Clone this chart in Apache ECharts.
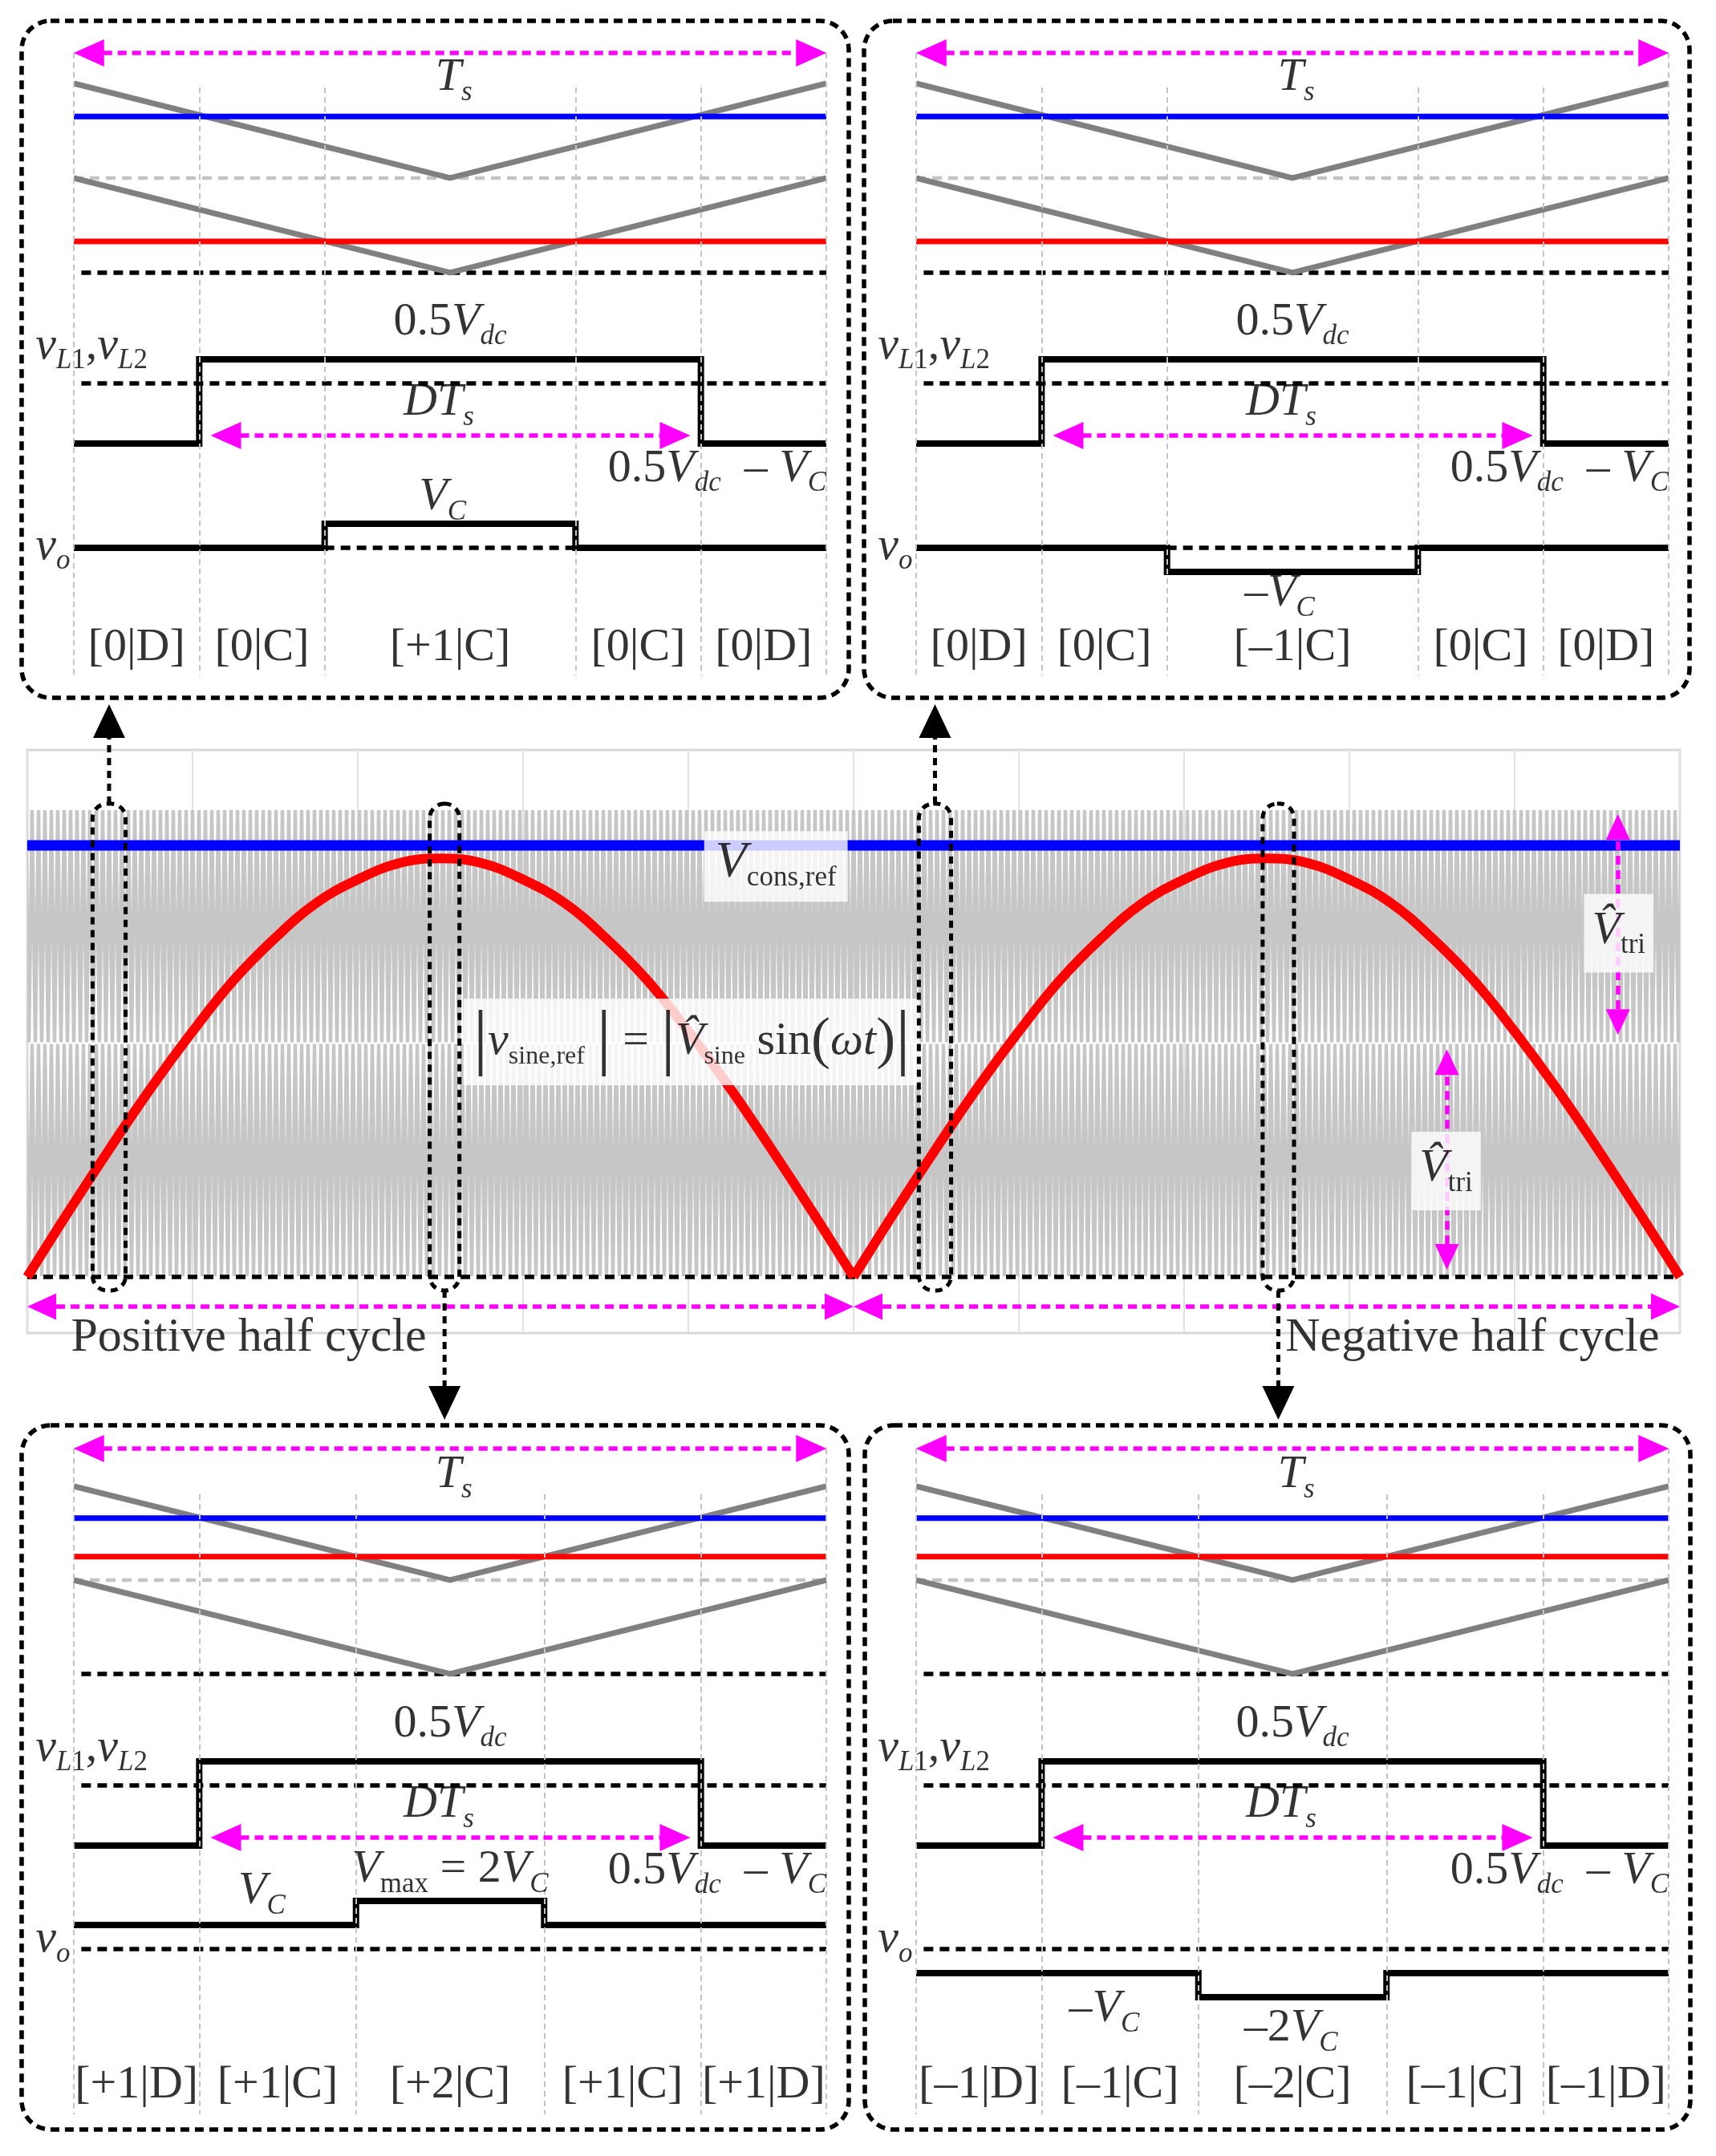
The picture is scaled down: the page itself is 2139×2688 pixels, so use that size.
<!DOCTYPE html>
<html><head><meta charset="utf-8">
<script src="https://cdn.jsdelivr.net/npm/echarts@6/dist/echarts.min.js"></script>
<style>html,body{margin:0;padding:0;background:#fff}#c{width:2139px;height:2688px}</style>
</head><body><div id="c"></div><script>
const SERIF = "'Liberation Serif','Times New Roman','DejaVu Serif',serif";

// ---------------- DATA : four switching-period panels ----------------
const panelKeys = ['TL', 'TR', 'BL', 'BR'];
const segBounds = {
  TL: [0, 1/6, 1/3, 2/3, 5/6, 1], TR: [0, 1/6, 1/3, 2/3, 5/6, 1],
  BL: [0, 1/6, 0.375, 0.625, 5/6, 1], BR: [0, 1/6, 0.375, 0.625, 5/6, 1]
};
const segLabels = {
  TL: ['[0|D]', '[0|C]', '[+1|C]', '[0|C]', '[0|D]'],
  TR: ['[0|D]', '[0|C]', '[–1|C]', '[0|C]', '[0|D]'],
  BL: ['[+1|D]', '[+1|C]', '[+2|C]', '[+1|C]', '[+1|D]'],
  BR: ['[–1|D]', '[–1|C]', '[–2|C]', '[–1|C]', '[–1|D]']
};
const carrierUpper = [[0, 2], [0.5, 1], [1, 2]];
const carrierLower = [[0, 1], [0.5, 0], [1, 1]];
const consRefLevel = {TL: 1.65, TR: 1.65, BL: 1.66, BR: 1.66};
const sineRefLevel = {TL: 0.33, TR: 0.33, BL: 1.25, BR: 1.25};
const vLBounds = [0, 1/6, 5/6, 1];
const vLLevels = [-2.5, 1, -2.5];
const voLevels = {TL: [0, 0, 1, 0, 0], TR: [0, 0, -1, 0, 0], BL: [1, 1, 2, 1, 1], BR: [-1, -1, -2, -1, -1]};

// ---------------- DATA : line-cycle view ----------------
const halfX = [0,0.05,0.1,0.15,0.2,0.25,0.3,0.35,0.4,0.45,0.5,0.55,0.6,0.65,0.7,0.75,0.8,0.85,0.9,0.95,1];
const posHalfSine = [0,0.28,0.55,0.81,1.05,1.27,1.45,1.6,1.7,1.77,1.79,1.77,1.7,1.6,1.45,1.27,1.05,0.81,0.55,0.28,0];
const negHalfSine = [0,0.28,0.55,0.81,1.05,1.27,1.45,1.6,1.7,1.77,1.79,1.77,1.7,1.6,1.45,1.27,1.05,0.81,0.55,0.28,0];
const consRefMid = 1.846;
const carrierBands = [[0, 1], [1, 2]];

// ---------------- LAYOUT (positions / sizes) ----------------
const TOPY = {frameTop: 66, frameBottom: 842, innerTop: 109, cz: 340, cu: 118, vLz: 478, voz: 683, u: 30, labelY: 808};
const BOTY = {frameTop: 1806, frameBottom: 2636, innerTop: 1863, cz: 2087, cu: 117, vLz: 2226, voz: 2430, u: 30, labelY: 2600};
const PANEL = {
  TL: Object.assign({x0: 92, x1: 1030, box: [27, 26, 1058, 870]}, TOPY),
  TR: Object.assign({x0: 1142, x1: 2080, box: [1077, 26, 2106, 870]}, TOPY),
  BL: Object.assign({x0: 92, x1: 1030, box: [27, 1777, 1058, 2655]}, BOTY),
  BR: Object.assign({x0: 1142, x1: 2080, box: [1078, 1777, 2107, 2655]}, BOTY)
};
const MID = {left: 34, top: 935, width: 2060, height: 727, ymin: -0.24, ymax: 2.254};
const midBoxes = [[0.079, 0.119], [0.487, 0.523], [1.079, 1.118], [1.495, 1.533]];
const midBoxY = [-0.058, 2.024];
const connDir = ['up', 'down', 'up', 'down'];
const TIP_UP = 878, TIP_DOWN = 1770;

const RICH = {
  n: {fontFamily: SERIF, fontSize: 58, color: '#000'},
  i: {fontFamily: SERIF, fontSize: 58, fontStyle: 'italic', color: '#000'},
  si: {fontFamily: SERIF, fontSize: 35, fontStyle: 'italic', color: '#000', padding: [37, 0, 0, 0]},
  su: {fontFamily: SERIF, fontSize: 35, color: '#000', padding: [37, 0, 0, 0]},
  fb: {fontFamily: SERIF, fontSize: 92, color: '#000'},
  fp: {fontFamily: SERIF, fontSize: 72, color: '#000'},
  fi: {fontFamily: SERIF, fontSize: 58, fontStyle: 'italic', color: '#000'},
  fn: {fontFamily: SERIF, fontSize: 58, color: '#000'},
  fs: {fontFamily: SERIF, fontSize: 32, color: '#000', padding: [38, 0, 0, 0]}
};

const grid = [], xAxis = [], yAxis = [], series = [];
function addGrid(left, top, width, height, ymin, ymax, xmin, xmax, opts) {
  opts = opts || {};
  const gi = grid.length;
  grid.push(Object.assign({left, top, width, height, show: false}, opts.grid || {}));
  xAxis.push(Object.assign({type: 'value', gridIndex: gi, min: xmin, max: xmax, show: false}, opts.x || {}));
  yAxis.push(Object.assign({type: 'value', gridIndex: gi, min: ymin, max: ymax, show: false}, opts.y || {}));
  return gi;
}
function lineS(gi, data, style, z, extra) {
  series.push(Object.assign({type: 'line', xAxisIndex: gi, yAxisIndex: gi, data, symbol: 'none', silent: true, clip: false,
    z: z || 3, animation: false,
    lineStyle: Object.assign({cap: 'butt', join: 'miter'}, style)}, extra || {}));
}
function stepData(bounds, levels) {
  const pts = [];
  levels.forEach((lv, i) => { pts.push([bounds[i], lv], [bounds[i + 1], lv]); });
  return pts;
}
function label(gi, x, y, text, align, extra) {
  series.push({type: 'scatter', xAxisIndex: gi, yAxisIndex: gi, clip: false, silent: true, z: 8,
    symbolSize: 1, itemStyle: {color: 'rgba(0,0,0,0)'}, animation: false,
    data: [{value: [x, y]}],
    label: Object.assign({show: true, position: 'inside', formatter: text, align: align || 'center',
      verticalAlign: 'middle', color: '#000', fontFamily: SERIF, fontSize: 58, rich: RICH}, extra || {})});
}
function arrow(gi, from, to, size, z) {
  series.push({type: 'line', xAxisIndex: gi, yAxisIndex: gi, data: [], silent: true, z: z || 6, animation: false,
    markLine: {silent: true, animation: false, symbol: ['triangle', 'triangle'], symbolSize: size || [34, 38],
      label: {show: false}, lineStyle: {color: '#ff00ff', width: 5.5, type: [11, 7], opacity: 1},
      data: [[{coord: from}, {coord: to}]]}});
}
const DASH = {color: '#000', width: 5.5, type: [12, 8]};

// ---------------- panels ----------------
panelKeys.forEach(k => {
  const L = PANEL[k];
  const W = L.x1 - L.x0;
  const bounds = segBounds[k];
  const fh = L.frameBottom - L.frameTop;
  // frame grid (guides, period arrow, state labels)
  const gF = addGrid(L.x0, L.frameTop, W, fh, 0, 1, 0, 1);
  const innerFrac = (L.frameBottom - L.innerTop) / fh;
  series.push({type: 'line', xAxisIndex: gF, yAxisIndex: gF, data: [], silent: true, z: 1, animation: false,
    markLine: {silent: true, animation: false, symbol: ['none', 'none'], label: {show: false},
      lineStyle: {color: '#c4c4c4', width: 2, type: [7, 5]},
      data: bounds.map((b, i) => [{coord: [b, (i === 0 || i === bounds.length - 1) ? 1 : innerFrac]}, {coord: [b, 0]}])}});
  arrow(gF, [0.02, 1], [0.98, 1]);
  label(gF, 0.505, 0.96, '{i|T}{si|s}');
  const ly = (L.frameBottom - L.labelY) / fh;
  segLabels[k].forEach((t, i) => label(gF, (bounds[i] + bounds[i + 1]) / 2, ly, t, 'center', {fontSize: 58}));

  // carrier grid
  const gC = addGrid(L.x0, L.cz - 2.3 * L.cu, W, 2.5 * L.cu, -0.2, 2.3, 0, 1);
  lineS(gC, [[0, 1], [1, 1]], {color: '#c3c3c3', width: 4.5, type: [12, 8]}, 2);
  lineS(gC, [[0.01, 0], [1, 0]], DASH, 2);
  lineS(gC, carrierUpper, {color: '#808080', width: 7}, 3);
  lineS(gC, carrierLower, {color: '#808080', width: 7}, 3);
  lineS(gC, [[0, consRefLevel[k]], [1, consRefLevel[k]]], {color: '#0000ff', width: 7}, 4);
  lineS(gC, [[0, sineRefLevel[k]], [1, sineRefLevel[k]]], {color: '#ff0000', width: 7}, 4);

  // inductor voltage grid
  const gL = addGrid(L.x0, L.vLz - 2.8 * L.u, W, 7 * L.u, -4.2, 2.8, 0, 1);
  lineS(gL, [[0.01, 0], [1, 0]], DASH, 2);
  lineS(gL, stepData(vLBounds, vLLevels), {color: '#000', width: 8}, 4);
  arrow(gL, [0.202, -2.17], [0.799, -2.17]);
  label(gL, 0.5, 2.55, '{n|0.5}{i|V}{si|dc}');
  label(gL, -0.051, 1.55, '{i|v}{si|L}{su|1}{n|,}{i|v}{si|L}{su|2}', 'left');
  label(gL, 0.485, -0.8, '{i|DT}{si|s}');
  label(gL, 1.0, -3.55, '{n|0.5}{i|V}{si|dc}{n|  – }{i|V}{si|C}', 'right');

  // output voltage grid
  const gO = addGrid(L.x0, L.voz - 3.8 * L.u, W, 8.3 * L.u, -4.5, 3.8, 0, 1);
  const vo = voLevels[k];
  if (k === 'TL' || k === 'TR') lineS(gO, [[bounds[2], 0], [bounds[3], 0]], DASH, 2);
  else lineS(gO, [[0.01, 0], [1, 0]], DASH, 2);
  lineS(gO, stepData(bounds, vo), {color: '#000', width: 8}, 4);
  label(gO, -0.051, (k === 'TL' || k === 'TR') ? 0.05 : 0.4, '{i|v}{si|o}', 'left');
  if (k === 'TL') label(gO, 0.49, 2.1, '{i|V}{si|C}');
  if (k === 'TR') label(gO, 0.483, -1.9, '{n|–}{i|V}{si|C}');
  if (k === 'BL') {
    label(gO, 0.25, 2.4, '{i|V}{si|C}');
    label(gO, 0.5, 3.3, '{i|V}{su|max}{n| = 2}{i|V}{si|C}');
  }
  if (k === 'BR') {
    label(gO, 0.25, -2.5, '{n|–}{i|V}{si|C}');
    label(gO, 0.498, -3.3, '{n|–2}{i|V}{si|C}');
  }
});

// ---------------- middle: line cycle ----------------
const gM = addGrid(MID.left, MID.top, MID.width, MID.height, MID.ymin, MID.ymax, 0, 2, {
  grid: {show: true, borderColor: '#d8d8d8', borderWidth: 3},
  x: {show: true, interval: 0.2, axisLine: {show: false}, axisTick: {show: false}, axisLabel: {show: false},
      splitLine: {show: true, lineStyle: {color: '#e2e2e2', width: 2}}}
});
series.push({id: 'carrierBand', type: 'line', xAxisIndex: gM, yAxisIndex: gM, data: [], silent: true, z: 1, animation: false,
  markArea: {silent: true, animation: false, itemStyle: {color: '#cfcfcf', opacity: 1},
    data: carrierBands.map(b => [{coord: [0, b[0]]}, {coord: [2, b[1]]}])}});
lineS(gM, [[0, 0], [2, 0]], DASH, 3);
lineS(gM, [[0, consRefMid], [2, consRefMid]], {color: '#0000ff', width: 13}, 4);
lineS(gM, halfX.map((x, i) => [x, posHalfSine[i]]), {color: '#ff0000', width: 12, join: 'round'}, 5, {smooth: 0.4});
lineS(gM, halfX.map((x, i) => [1 + x, negHalfSine[i]]), {color: '#ff0000', width: 12, join: 'round'}, 5, {smooth: 0.4});
arrow(gM, [0.0175, -0.127], [0.9825, -0.127], [33, 36]);
arrow(gM, [1.0175, -0.127], [1.9825, -0.127], [33, 36]);
arrow(gM, [1.925, 1.925], [1.925, 1.09], [30, 32]);
arrow(gM, [1.718, 0.919], [1.718, 0.086], [30, 32]);
const BOX = {backgroundColor: '#fff'};
label(gM, 0.906, 1.756, '{i|V}{su|cons,ref}', 'center', Object.assign({padding: [4, 14, 12, 14], rich: Object.assign({}, RICH, {i: {fontFamily: SERIF, fontSize: 64, fontStyle: 'italic', color: '#000'}})}, BOX));
label(gM, 0.804, 1.005, '{fb||}{fi|v}{fs|sine,ref}{fn| }{fb||}{fn| = }{fb||}{fi|V\u0302}{fs|sine}{fn| sin}{fp|(}{fi|ωt}{fp|)}{fb||}', 'center', Object.assign({padding: [8, 12, 8, 12]}, BOX));
label(gM, 1.926, 1.47, '{i|V\u0302}{su|tri}', 'center', Object.assign({padding: [10, 10, 16, 10]}, BOX));
label(gM, 1.717, 0.453, '{i|V\u0302}{su|tri}', 'center', Object.assign({padding: [10, 10, 16, 10]}, BOX));
label(gM, 0.268, -0.262, 'Positive half cycle', 'center', {fontSize: 60});
label(gM, 1.749, -0.262, 'Negative half cycle', 'center', {fontSize: 60});

const chart = echarts.init(document.getElementById('c'), null, {renderer: 'canvas', width: 2139, height: 2688});
chart.setOption({animation: false, backgroundColor: '#fff', grid, xAxis, yAxis, series});

// -------- second pass: carrier texture + annotation frames/connectors --------
function buildCarrierPattern() {
  const yPix = v => chart.convertToPixel({gridIndex: gM}, [0, v])[1];
  const P = 8;
  const c = document.createElement('canvas');
  c.width = P; c.height = Math.ceil(yPix(0)) + 6;
  const g = c.getContext('2d');
  g.strokeStyle = '#c6c6c6'; g.lineWidth = 4.4;
  carrierBands.forEach(b => {
    const top = yPix(b[1]), bot = yPix(b[0]);
    g.save(); g.beginPath(); g.rect(0, top + 1, P, bot - top - 2); g.clip();
    g.beginPath();
    g.moveTo(-P / 2, bot); g.lineTo(0, top); g.lineTo(P / 2, bot); g.lineTo(P, top); g.lineTo(1.5 * P, bot);
    g.stroke(); g.restore();
  });
  return c;
}
const gfx = [];
panelKeys.forEach(k => {
  const b = PANEL[k].box;
  gfx.push({type: 'rect', silent: true, z: 20, shape: {x: b[0], y: b[1], width: b[2] - b[0], height: b[3] - b[1], r: 36},
    style: {fill: null, stroke: '#000', lineWidth: 5.5, lineDash: [11, 7]}});
});
midBoxes.forEach((r, i) => {
  const pa = chart.convertToPixel({gridIndex: gM}, [r[0], midBoxY[1]]);
  const pb = chart.convertToPixel({gridIndex: gM}, [r[1], midBoxY[0]]);
  gfx.push({type: 'rect', silent: true, z: 20, shape: {x: pa[0], y: pa[1], width: pb[0] - pa[0], height: pb[1] - pa[1], r: 18},
    style: {fill: null, stroke: '#000', lineWidth: 5, lineDash: [9, 7]}});
  const cx = (pa[0] + pb[0]) / 2;
  if (connDir[i] === 'up') {
    gfx.push({type: 'line', silent: true, z: 20, shape: {x1: cx, y1: pa[1], x2: cx, y2: TIP_UP + 40}, style: {stroke: '#000', lineWidth: 5, lineDash: [9, 7]}});
    gfx.push({type: 'polygon', silent: true, z: 20, shape: {points: [[cx, TIP_UP], [cx - 20, TIP_UP + 42], [cx + 20, TIP_UP + 42]]}, style: {fill: '#000'}});
  } else {
    gfx.push({type: 'line', silent: true, z: 20, shape: {x1: cx, y1: pb[1], x2: cx, y2: TIP_DOWN - 40}, style: {stroke: '#000', lineWidth: 5, lineDash: [9, 7]}});
    gfx.push({type: 'polygon', silent: true, z: 20, shape: {points: [[cx, TIP_DOWN], [cx - 20, TIP_DOWN - 42], [cx + 20, TIP_DOWN - 42]]}, style: {fill: '#000'}});
  }
});
chart.setOption({
  series: [{id: 'carrierBand', markArea: {itemStyle: {color: {image: buildCarrierPattern(), repeat: 'repeat-x'}, opacity: 1}}}],
  graphic: gfx
});
</script></body></html>
